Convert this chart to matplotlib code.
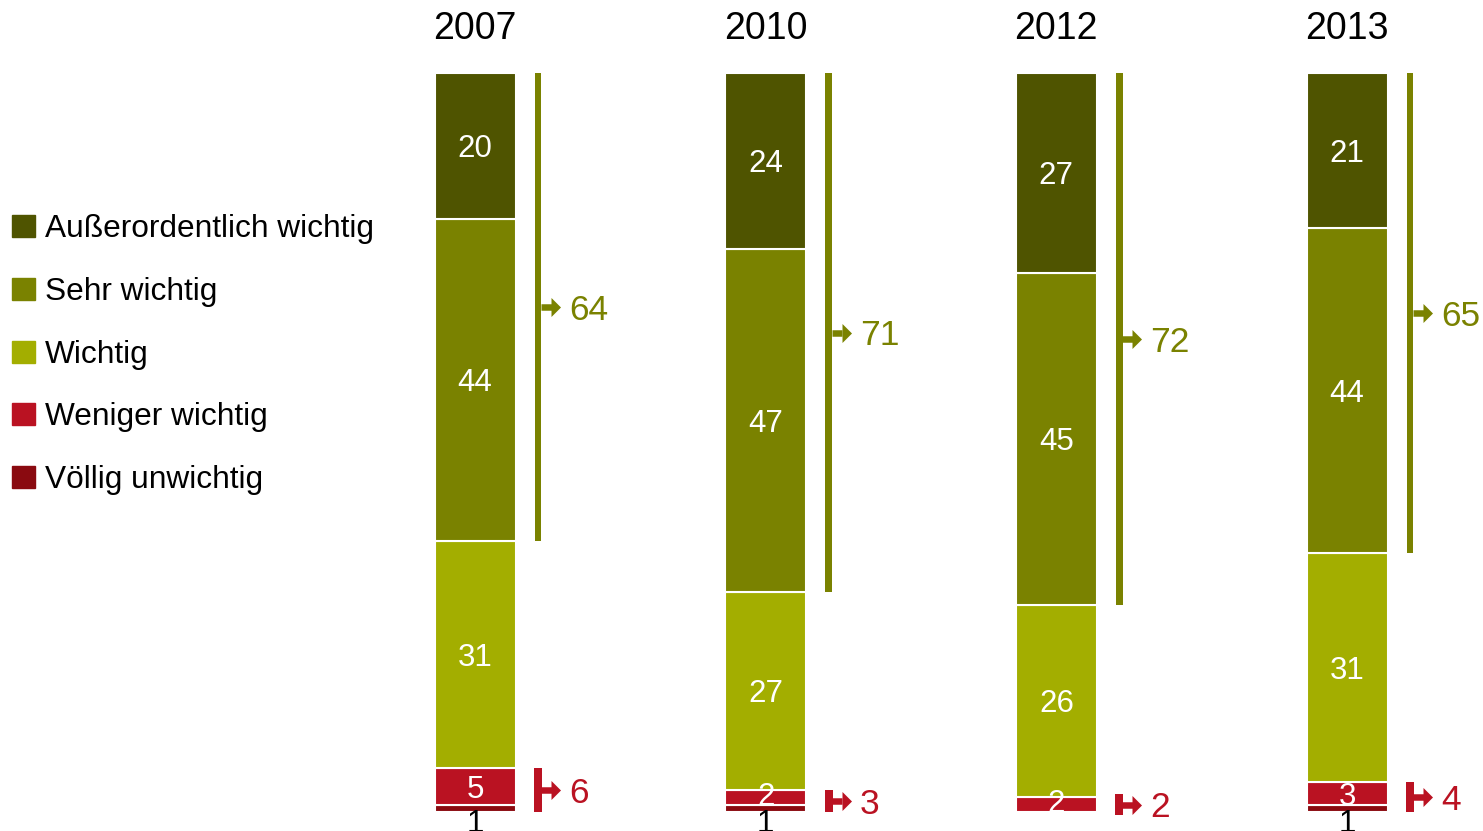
import matplotlib
matplotlib.use("Agg")
import matplotlib.pyplot as plt
from matplotlib.patches import Rectangle
import numpy as np

plt.rcParams['font.family'] = ['Liberation Sans', 'DejaVu Sans']

years = ["2007", "2010", "2012", "2013"]
categories = ["Außerordentlich wichtig", "Sehr wichtig", "Wichtig",
              "Weniger wichtig", "Völlig unwichtig"]
ausserordentlich = [20, 24, 27, 21]
sehr_wichtig = [44, 47, 45, 44]
wichtig = [31, 27, 26, 31]
weniger_wichtig = [5, 2, 2, 3]
voellig_unwichtig = [1, 1, 0, 1]
total_wichtig = [64, 71, 72, 65]
total_unwichtig = [6, 3, 2, 4]

colors = ["#4f5400", "#7a8200", "#a3ae00", "#ba1222", "#8a0a10"]
olive = "#7a8200"
red = "#ba1222"

W, H = 1483, 831
fig = plt.figure(figsize=(W / 100, H / 100), dpi=100)
ax = fig.add_axes([0, 0, 1, 1])
spacing = 290.67
ppu = 7.39
ax.set_xlim(-475 / spacing, (W - 475) / spacing)
ax.set_ylim(-(H - 812) / ppu, 100 + 73 / ppu)
ax.axis('off')

CAP = 0.716


def ctext(xv, yc, s, fs, **kw):
    """Place digits so that their cap-height is vertically centred at yc."""
    off = CAP * fs * 100 / 72 / 2 / ppu
    ax.text(xv, yc - off, s, va='baseline', fontsize=fs, **kw)


series = [ausserordentlich, sehr_wichtig, wichtig, weniger_wichtig, voellig_unwichtig]
data = np.array(series, dtype=float)
sums = data.sum(axis=0)
norm = data / sums * 100
x = np.arange(len(years))
bw = 81 / spacing

bottom = np.zeros(len(years))
seg_bounds = {}
for ci in range(len(categories) - 1, -1, -1):
    h = norm[ci]
    ax.bar(x, h, bottom=bottom, width=bw, color=colors[ci],
           edgecolor='white', linewidth=1.5)
    seg_bounds[ci] = (bottom.copy(), bottom + h)
    for i in range(len(years)):
        v = data[ci, i]
        if v <= 0:
            continue
        if ci == 4:
            ax.text(x[i], -(832 - 812) / ppu, f"{int(v)}", ha='center',
                    va='baseline', fontsize=22.5, color='black')
        else:
            yc = bottom[i] + h[i] / 2
            if v <= 2:
                yc += 0.5
            ctext(x[i], yc, f"{int(v)}", 22.5, ha='center', color='white')
    bottom = bottom + h

for i, y in enumerate(years):
    ax.text(x[i], 100 + (73 - 39) / ppu, y, ha='center', va='baseline', fontsize=27)

bx_off = (538 - 475) / spacing
lw_px = 6.5 / spacing
stem_start = (541 - 475) / spacing
head_base = (551 - 475) / spacing
lab_off = (569 - 475) / spacing
head_marker = [(0, -1), (1, 0), (0, 1), (0, -1)]


def arrow(xi, yv, color):
    ax.plot([xi + stem_start, xi + head_base + 0.5 / spacing], [yv, yv],
            color=color, lw=6.5 * 72 / 100, solid_capstyle='butt')
    ax.plot([xi + head_base], [yv], marker=head_marker, markersize=19 * 72 / 100,
            color=color, markeredgewidth=0, linestyle='none')


for i in range(len(years)):
    lo = seg_bounds[1][0][i]
    hi = 100
    ax.bar(x[i] + bx_off, hi - lo, bottom=lo, width=lw_px, color=olive, linewidth=0)
    mid = (lo + hi) / 2
    arrow(x[i], mid, olive)
    ctext(x[i] + lab_off, mid, f"{total_wichtig[i]}", 25.5, ha='left', color=olive)

    hi2 = seg_bounds[3][1][i]
    lo2 = 0
    if hi2 - lo2 < 2.8:
        c = (hi2 + lo2) / 2
        lo2, hi2 = c - 1.4, c + 1.4
    ax.bar(x[i] + bx_off, hi2 - lo2, bottom=lo2, width=8 / spacing, color=red, linewidth=0)
    mid2 = (lo2 + hi2) / 2
    arrow(x[i], mid2, red)
    ctext(x[i] + lab_off, mid2, f"{total_unwichtig[i]}", 25.5, ha='left', color=red)

# legend (manual)
for ci, cat in enumerate(categories):
    base = 237 + 62.75 * ci
    fig.patches.append(Rectangle((12 / W, 1 - base / H), 23 / W, 22 / H,
                                 transform=fig.transFigure, color=colors[ci]))
    fig.text(45 / W, 1 - base / H, cat, ha='left', va='baseline', fontsize=22.8)

fig.savefig("out.png", dpi=100)
